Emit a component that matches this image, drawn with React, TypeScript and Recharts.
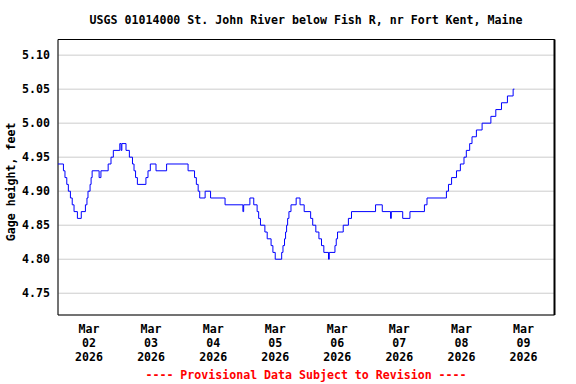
import React from "react";
import {
  LineChart,
  Line,
  XAxis,
  YAxis,
  CartesianGrid,
  ReferenceArea,
  ReferenceLine,
} from "recharts";

// hours after Mar 02 2026 00:00 where the gage reading changes (step series)
const hours = [
  0, 2.1, 2.7, 3.4, 4.0, 4.8, 5.5, 6.2, 7.5, 9.0, 10.6, 11.2, 11.6, 12.4, 12.8, 13.2, 15.9, 16.6,
  19.4, 20.5, 21.4, 23.9, 24.4, 24.7, 26.3, 27.6, 28.8, 29.4, 30.0, 30.7, 34.0, 34.8, 35.7, 37.9,
  42.0, 50.3, 52.8, 53.5, 54.2, 54.8, 56.9, 59.0, 64.6, 71.5, 71.8, 74.2, 75.7, 77.0, 77.6, 78.3,
  80.0, 80.9, 82.4, 83.1, 84.0, 86.5, 87.0, 87.6, 88.0, 88.4, 88.8, 89.3, 90.1, 92.1, 93.6, 95.2,
  97.7, 98.5, 99.7, 100.9, 101.9, 102.8, 104.6, 104.9, 107.1, 107.6, 108.1, 110.3, 112.3, 113.5,
  122.8, 125.4, 128.6, 128.9, 133.3, 136.1, 141.7, 142.7, 150.2, 151.0, 152.2, 154.1, 155.6,
  157.0, 157.9, 159.2, 160.1, 161.8, 164.0, 167.4, 169.3, 171.5, 173.8, 176.0, 176.5,
];
const stage = [
  4.94, 4.93, 4.92, 4.91, 4.90, 4.89, 4.88, 4.87, 4.86, 4.87, 4.88, 4.89, 4.90, 4.91, 4.92, 4.93, 4.92, 4.93,
  4.94, 4.95, 4.96, 4.97, 4.96, 4.97, 4.96, 4.95, 4.94, 4.93, 4.92, 4.91, 4.92, 4.93, 4.94, 4.93,
  4.94, 4.93, 4.92, 4.91, 4.90, 4.89, 4.90, 4.89, 4.88, 4.87, 4.88, 4.89, 4.88, 4.87, 4.86, 4.85,
  4.84, 4.83, 4.82, 4.81, 4.80, 4.81, 4.82, 4.83, 4.84, 4.85, 4.86, 4.87, 4.88, 4.89, 4.88, 4.87,
  4.86, 4.85, 4.84, 4.83, 4.82, 4.81, 4.80, 4.81, 4.82, 4.83, 4.84, 4.85, 4.86, 4.87,
  4.88, 4.87, 4.86, 4.87, 4.86, 4.87, 4.88, 4.89, 4.90, 4.91, 4.92, 4.93, 4.94,
  4.95, 4.96, 4.97, 4.98, 4.99, 5.00, 5.01, 5.02, 5.03, 5.04, 5.05, 5.05,
];

const dayMonths = ["Mar", "Mar", "Mar", "Mar", "Mar", "Mar", "Mar", "Mar"];
const dayNums = ["02", "03", "04", "05", "06", "07", "08", "09"];
const dayYears = ["2026", "2026", "2026", "2026", "2026", "2026", "2026", "2026"];
const labelTicks = [12, 36, 60, 84, 108, 132, 156, 180];
const gridTicks = [0, 24, 48, 72, 96, 120, 144, 168, 192];
const yTicks = [4.75, 4.8, 4.85, 4.9, 4.95, 5.0, 5.05, 5.1];

const X_MAX = 192;
const Y_MIN = 4.718;
const Y_MAX = 5.123;

const FONT = '"DejaVu Sans Mono", monospace';

const data = hours.map((h, i) => ({ h, v: stage[i] }));

function DayTick(props: any) {
  const { x, y, index } = props;
  return (
    <text
      x={x}
      y={y}
      textAnchor="middle"
      fontFamily={FONT}
      fontWeight="bold"
      fontSize={11.6}
      fill="#000"
    >
      <tspan x={x} dy={18}>{dayMonths[index]}</tspan>
      <tspan x={x} dy={14}>{dayNums[index]}</tspan>
      <tspan x={x} dy={14}>{dayYears[index]}</tspan>
    </text>
  );
}

export default function App() {
  return (
    <div style={{ position: "absolute", left: 0, top: 0, width: 576, height: 384, background: "#fff" }}>
      <div
        style={{
          position: "absolute",
          left: 0,
          top: 13,
          width: 612,
          textAlign: "center",
          fontFamily: FONT,
          fontWeight: "bold",
          fontSize: 11.6,
          lineHeight: "14px",
          whiteSpace: "pre",
        }}
      >
        USGS 01014000 St. John River below Fish R, nr Fort Kent, Maine
      </div>
      <LineChart
        width={576}
        height={384}
        data={data}
        margin={{ top: 39.5, right: 21.5, left: 8, bottom: 9 }}
      >
        <CartesianGrid stroke="#cccccc" strokeWidth={1} />
        <XAxis
          dataKey="h"
          type="number"
          domain={[0, X_MAX]}
          ticks={gridTicks}
          allowDataOverflow
          tick={false}
          tickLine={false}
          axisLine={false}
          height={0}
        />
        <XAxis
          xAxisId="lab"
          dataKey="h"
          type="number"
          domain={[0, X_MAX]}
          ticks={labelTicks}
          allowDataOverflow
          tick={<DayTick />}
          tickLine={false}
          axisLine={false}
          tickSize={0}
          tickMargin={0}
          height={60}
        />
        <YAxis
          type="number"
          domain={[Y_MIN, Y_MAX]}
          ticks={yTicks}
          allowDataOverflow
          tickFormatter={(v: number) => v.toFixed(2)}
          tick={{ fontFamily: FONT, fontWeight: "bold", fontSize: 11.6, fill: "#000" }}
          tickLine={false}
          axisLine={false}
          tickSize={0}
          tickMargin={8}
          width={50}
          label={{
            value: "Gage height, feet",
            angle: -90,
            position: "insideLeft",
            offset: 3,
            dy: 64,
            style: { fontFamily: FONT, fontWeight: "bold", fontSize: 11.6, fill: "#000" },
          }}
        />
        <ReferenceArea
          x1={0}
          x2={X_MAX}
          y1={Y_MIN}
          y2={Y_MAX}
          fill="none"
          fillOpacity={0}
          stroke="#000"
          strokeWidth={1}
          ifOverflow="visible"
        />
        <ReferenceLine x={X_MAX} stroke="#000" strokeWidth={2} ifOverflow="visible" />
        <Line
          type="stepAfter"
          dataKey="v"
          stroke="#0000ff"
          strokeWidth={1}
          dot={false}
          isAnimationActive={false}
        />
      </LineChart>
      <div
        style={{
          position: "absolute",
          left: 0,
          top: 368,
          width: 612,
          textAlign: "center",
          fontFamily: FONT,
          fontWeight: "bold",
          fontSize: 11.6,
          lineHeight: "14px",
          color: "#ff0000",
          whiteSpace: "pre",
        }}
      >
        ---- Provisional Data Subject to Revision ----
      </div>
    </div>
  );
}
